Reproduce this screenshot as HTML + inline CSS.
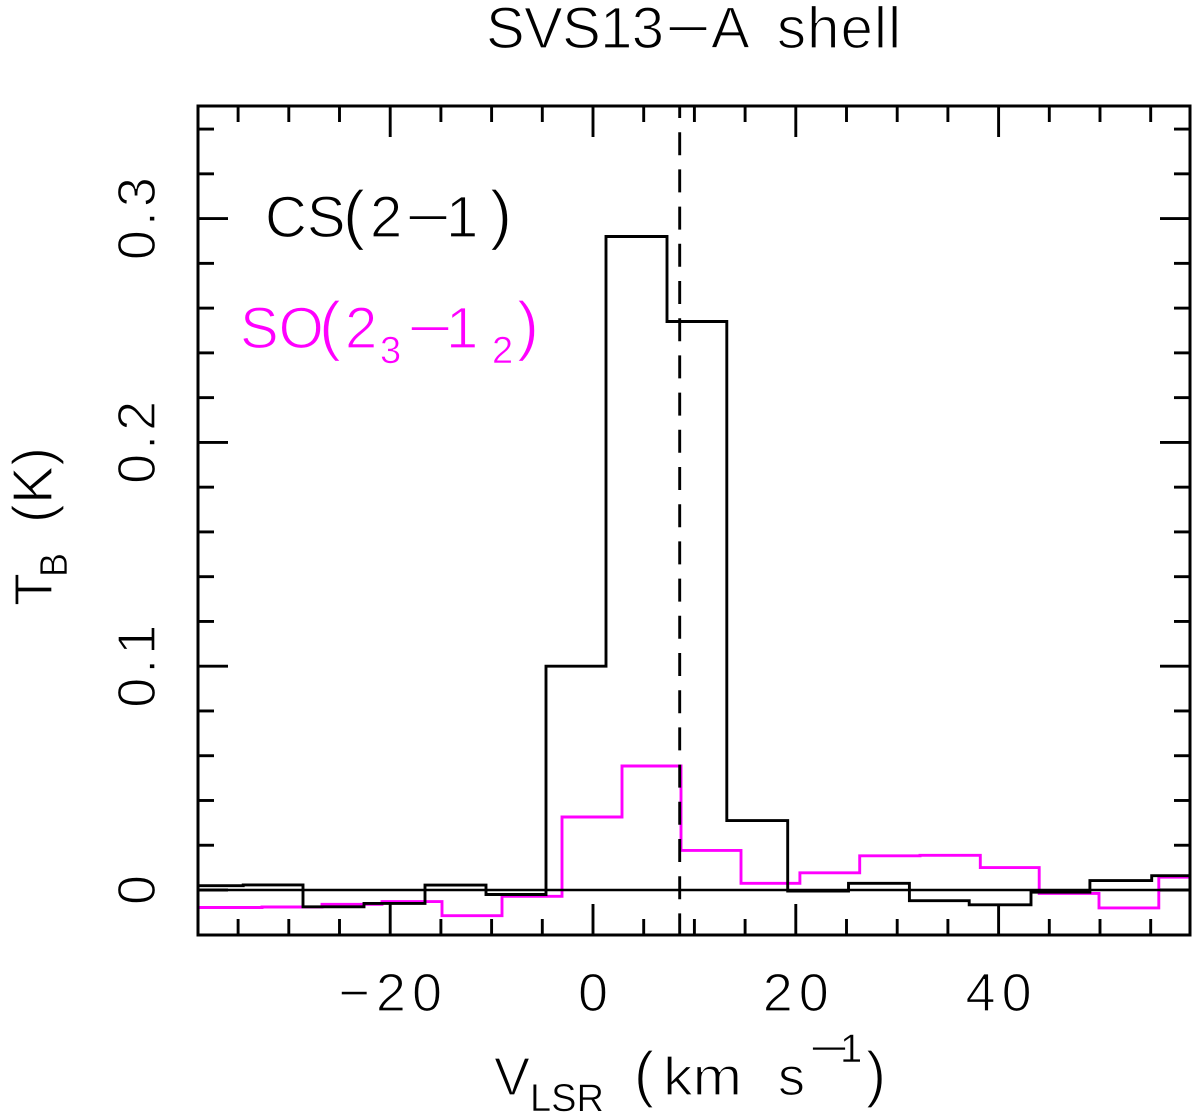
<!DOCTYPE html>
<html>
<head>
<meta charset="utf-8">
<title>SVS13-A shell</title>
<style>
html,body{margin:0;padding:0;background:#fff;}
svg{display:block;}
text{font-family:"Liberation Sans",sans-serif;fill:#000;stroke:#fff;stroke-width:1.3px;}
.mg{fill:#ff00ff;}
.sub{stroke-width:0.6px;}
</style>
</head>
<body>
<svg id="chart" xmlns="http://www.w3.org/2000/svg" width="1200" height="1119" viewBox="0 0 1200 1119">
  <rect x="0" y="0" width="1200" height="1119" fill="#fff"/>
  <g id="marks"></g>
  <g id="frame"></g>
  <g id="labels"></g>

  <g>
    <text x="486" y="48" font-size="58" textLength="178" lengthAdjust="spacing">SVS13</text>
    <text x="665" y="48" font-size="58" textLength="46" lengthAdjust="spacingAndGlyphs">−</text>
    <text x="711" y="48" font-size="58">A</text>
    <text x="777" y="48" font-size="58" textLength="124" lengthAdjust="spacing">shell</text>
  </g>

  <g>
    <text x="265" y="237" font-size="58">CS</text>
    <text x="343" y="237" font-size="66">(</text>
    <text x="370" y="237" font-size="58">2</text>
    <text x="405" y="237" font-size="58" textLength="46" lengthAdjust="spacingAndGlyphs">−</text>
    <text x="446" y="237" font-size="58">1</text>
    <text x="490" y="237" font-size="66">)</text>
  </g>
  <g>
    <text class="mg" x="240" y="348" font-size="58">SO</text>
    <text class="mg" x="319" y="348" font-size="66">(</text>
    <text class="mg" x="345" y="348" font-size="58">2</text>
    <text class="mg sub" x="380" y="363" font-size="38">3</text>
    <text class="mg" x="407" y="348" font-size="58" textLength="46" lengthAdjust="spacingAndGlyphs">−</text>
    <text class="mg" x="446" y="348" font-size="58">1</text>
    <text class="mg sub" x="492" y="363" font-size="38">2</text>
    <text class="mg" x="517" y="348" font-size="66">)</text>
  </g>

  <g>
    <text transform="translate(52,606) rotate(-90)" font-size="54">T</text>
    <text class="sub" transform="translate(67,577) rotate(-90)" font-size="39" textLength="24" lengthAdjust="spacingAndGlyphs">B</text>
    <text transform="translate(52,523) rotate(-90)" font-size="57" textLength="76" lengthAdjust="spacingAndGlyphs">(K)</text>
  </g>

  <g>
    <text x="494" y="1095" font-size="54">V</text>
    <text class="sub" x="530" y="1111" font-size="39" textLength="74" lengthAdjust="spacingAndGlyphs">LSR</text>
    <text x="634" y="1095" font-size="62" textLength="20" lengthAdjust="spacingAndGlyphs">(</text>
    <text x="663" y="1095" font-size="54" textLength="79" lengthAdjust="spacingAndGlyphs">km</text>
    <text x="778" y="1095" font-size="54">s</text>
    <text class="sub" x="809" y="1062" font-size="40" textLength="40" lengthAdjust="spacingAndGlyphs">−</text>
    <text class="sub" x="840" y="1062" font-size="40">1</text>
    <text x="866" y="1095" font-size="62" textLength="20" lengthAdjust="spacingAndGlyphs">)</text>
  </g>
</svg>
<script>
// Spectrum data (velocity in km/s, brightness temperature in K)
var csEdges = [-38.96, -34.5, -28.6, -22.58, -16.57, -10.55, -4.64, 1.28, 7.3, 13.2, 19.2, 25.2, 31.2, 37.1, 43.2, 49.0, 55.1, 58.9];
var csValues = [0.0019, 0.0023, -0.0075, -0.006, 0.0022, -0.002, 0.1, 0.292, 0.254, 0.031, -0.0005, 0.003, -0.0048, -0.0066, -0.001, 0.0042, 0.0064];
var soEdges = [-38.96, -32.64, -26.73, -20.81, -14.89, -8.97, -3.06, 2.86, 8.68, 14.6, 20.4, 26.3, 32.25, 38.2, 44.0, 49.9, 55.8, 58.9];
var soValues = [-0.0078, -0.0076, -0.0064, -0.0052, -0.0115, -0.0028, 0.0326, 0.0554, 0.0177, 0.003, 0.0077, 0.0153, 0.0155, 0.01, -0.0015, -0.008, 0.0057];
var systemicVelocity = [8.55];
var xMajorTicks = [-20, 0, 20, 40];
var xMinorTicks = [-35, -30, -25, -15, -10, -5, 5, 10, 15, 25, 30, 35, 45, 50, 55];
var xTickLabels = ["−20", "0", "20", "40"];
var yMajorTicks = [0, 0.1, 0.2, 0.3];
var yMinorTicks = [0.02, 0.04, 0.06, 0.08, 0.12, 0.14, 0.16, 0.18, 0.22, 0.24, 0.26, 0.28, 0.32, 0.34];
var yTickLabels = ["0", "0.1", "0.2", "0.3"];

var NS = "http://www.w3.org/2000/svg";
var plotLeft = 198, plotRight = 1190, plotTop = 106, plotBottom = 935;
function xScale(v) { return 593 + 10.14 * v; }
function yScale(t) { return 890 - 2238 * t; }

function stepPath(edges, values) {
  var d = "M" + xScale(edges[0]).toFixed(1) + " " + yScale(values[0]).toFixed(1);
  for (var i = 0; i < values.length; i++) {
    d += "L" + xScale(edges[i + 1]).toFixed(1) + " " + yScale(values[i]).toFixed(1);
    if (i + 1 < values.length) {
      d += "L" + xScale(edges[i + 1]).toFixed(1) + " " + yScale(values[i + 1]).toFixed(1);
    }
  }
  return d;
}
function makeLine(parent, x1, y1, x2, y2, w) {
  var l = document.createElementNS(NS, "line");
  l.setAttribute("x1", x1);
  l.setAttribute("y1", y1);
  l.setAttribute("x2", x2);
  l.setAttribute("y2", y2);
  l.setAttribute("stroke", "#000");
  l.setAttribute("stroke-width", w);
  parent.appendChild(l);
  return l;
}

var marks = document.getElementById("marks");
var frame = document.getElementById("frame");
var labels = document.getElementById("labels");

var soLine = document.createElementNS(NS, "path");


soLine.setAttribute("d", stepPath(soEdges, soValues));
soLine.setAttribute("fill", "none");
soLine.setAttribute("stroke", "#ff00ff");
soLine.setAttribute("stroke-width", "2.9");
marks.appendChild(soLine);

var csLine = document.createElementNS(NS, "path");


csLine.setAttribute("d", stepPath(csEdges, csValues));
csLine.setAttribute("fill", "none");
csLine.setAttribute("stroke", "#000");
csLine.setAttribute("stroke-width", "2.9");
marks.appendChild(csLine);

var zeroLine = makeLine(marks, plotLeft, yScale(0), plotRight, yScale(0), 2.6);



var vLine = makeLine(marks, xScale(systemicVelocity[0]), plotTop, xScale(systemicVelocity[0]), plotBottom, 2.9);
vLine.setAttribute("stroke-dasharray", "23 14.2");
vLine.setAttribute("stroke-dashoffset", "11");



var box = document.createElementNS(NS, "rect");


box.setAttribute("x", plotLeft);
box.setAttribute("y", plotTop);
box.setAttribute("width", plotRight - plotLeft);
box.setAttribute("height", plotBottom - plotTop);
box.setAttribute("fill", "none");
box.setAttribute("stroke", "#000");
box.setAttribute("stroke-width", "3");
frame.appendChild(box);

function xTick(v, len, name) {
  var a = makeLine(frame, xScale(v), plotBottom, xScale(v), plotBottom - len, 2.9);
  
  
  var b = makeLine(frame, xScale(v), plotTop, xScale(v), plotTop + len, 2.9);
  
  
}
function yTick(t, len, name) {
  var a = makeLine(frame, plotLeft, yScale(t), plotLeft + len, yScale(t), 2.9);
  
  
  var b = makeLine(frame, plotRight, yScale(t), plotRight - len, yScale(t), 2.9);
  
  
}
xMajorTicks.forEach(function (v) { xTick(v, 31, "x-major-tick"); });
xMinorTicks.forEach(function (v) { xTick(v, 16, "x-minor-tick"); });
yMajorTicks.forEach(function (t) { yTick(t, 30, "y-major-tick"); });
yMinorTicks.forEach(function (t) { yTick(t, 16, "y-minor-tick"); });

xMajorTicks.forEach(function (v, i) {
  var t = document.createElementNS(NS, "text");
  
  
  t.setAttribute("x", xScale(v) + 3);
  t.setAttribute("y", 1011);
  t.setAttribute("font-size", "54");
  t.setAttribute("text-anchor", "middle");
  t.setAttribute("letter-spacing", "6");
  t.textContent = xTickLabels[i];
  labels.appendChild(t);
});
yMajorTicks.forEach(function (v, i) {
  var t = document.createElementNS(NS, "text");
  
  
  t.setAttribute("transform", "translate(155," + (yScale(v) - 2) + ") rotate(-90)");
  t.setAttribute("font-size", "54");
  t.setAttribute("text-anchor", "middle");
  t.setAttribute("letter-spacing", "4");
  t.textContent = yTickLabels[i];
  labels.appendChild(t);
});
</script>
</body>
</html>
